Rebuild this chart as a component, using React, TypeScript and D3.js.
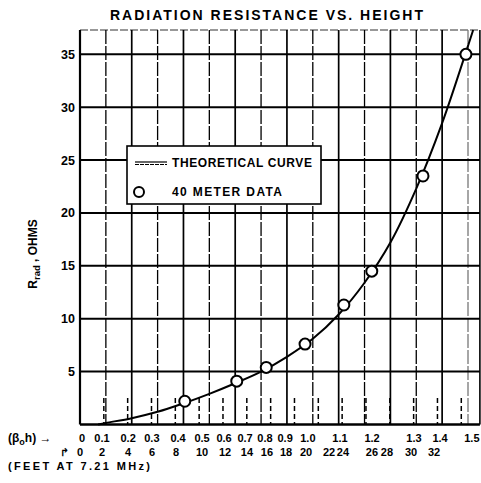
import React from "react";
import * as d3 from "d3";

const TITLE = "RADIATION RESISTANCE VS. HEIGHT";
const X_TICKS = [0, 0.1, 0.2, 0.3, 0.4, 0.5, 0.6, 0.7, 0.8, 0.9, 1.0, 1.1, 1.2, 1.3, 1.4, 1.5];
const X_LABELS = ["0", "0.1", "0.2", "0.3", "0.4", "0.5", "0.6", "0.7", "0.8", "0.9", "1.0", "1.1", "1.2", "1.3", "1.4", "1.5"];
// where the hand-lettered beta labels sit, in beta*h units
const BETA_LABEL_AT = [0.008, 0.085, 0.186, 0.278, 0.379, 0.472, 0.557, 0.638, 0.715, 0.793, 0.881, 1.005, 1.129, 1.291, 1.392, 1.515];
const FEET = [0, 2, 4, 6, 8, 10, 12, 14, 16, 18, 20, 22, 24, 26, 28, 30, 32];
// where the hand-lettered feet labels sit, in feet
const FEET_LABEL_AT = [0, 1.85, 4.03, 6.04, 8.06, 10.24, 12.17, 14.01, 15.69, 17.29, 18.97, 20.9, 22.07, 24.5, 25.76, 27.78, 29.71];
const Y_TICKS = [5, 10, 15, 20, 25, 30, 35];
const WAVELENGTH_FT = 136.4; // 7.21 MHz

const CURVE_BH = [0.07, 0.1, 0.2, 0.3, 0.4, 0.5, 0.6, 0.7, 0.8, 0.9, 1.0, 1.1, 1.2, 1.3, 1.4, 1.5, 1.52];
const CURVE_R = [0.0, 0.15, 0.6, 1.2, 2.0, 2.9, 3.9, 5.0, 6.4, 8.1, 10.4, 13.4, 17.2, 22.3, 28.5, 35.8, 37.3];

const DATA_BH = [0.405, 0.606, 0.72, 0.87, 1.02, 1.128, 1.326, 1.492];
const DATA_R = [2.2, 4.1, 5.4, 7.6, 11.3, 14.5, 23.5, 35.0];

const W = 481;
const H = 483;
const FONT = "'Liberation Sans', Arial, sans-serif";

export default function App() {
  const x = d3.scaleLinear().domain([0, 1.5]).range([80, 468]);
  const y = d3.scaleLinear().domain([0, 37.3]).range([424.5, 30]);
  const xRight = x(1.546);
  const ftToBh = (f: number) => (f * 2 * Math.PI) / WAVELENGTH_FT;

  const curve = CURVE_BH.map((b, i) => [b, CURVE_R[i]] as [number, number]);
  const line = d3
    .line<[number, number]>()
    .x((d) => x(d[0]))
    .y((d) => y(d[1]))
    .curve(d3.curveCatmullRom.alpha(0.5));

  return (
    <svg
      width={W}
      height={H}
      viewBox={`0 0 ${W} ${H}`}
      style={{ position: "absolute", left: 0, top: 0, background: "#fff" }}
    >
      <rect x={0} y={0} width={W} height={H} fill="#fff" />
      <text
        x={110}
        y={20}
        fontFamily={FONT}
        fontWeight="bold"
        fontSize={14}
        textLength={313}
        lengthAdjust="spacing"
      >
        {TITLE}
      </text>

      {/* top border */}
      <line x1={x(0)} x2={xRight} y1={y(37.3)} y2={y(37.3)} stroke="#333" strokeWidth={1.2} strokeDasharray="8 2" />

      {/* vertical grid */}
      {X_TICKS.slice(1).map((t, i) => (
        <line
          key={"vx" + t}
          x1={x(t)}
          x2={x(t)}
          y1={y(37.3)}
          y2={y(0)}
          stroke={t === 1.5 ? "#777" : "#000"}
          strokeWidth={i % 2 === 0 ? 1.3 : 1.7}
          strokeDasharray={i % 2 === 0 ? "14 2" : undefined}
        />
      ))}
      {/* right border */}
      <line x1={xRight} x2={xRight} y1={y(37.3)} y2={y(0)} stroke="#000" strokeWidth={1.6} />

      {/* horizontal grid */}
      {Y_TICKS.map((t) => (
        <line key={"hy" + t} x1={x(0)} x2={xRight} y1={y(t)} y2={y(t)} stroke="#000" strokeWidth={2} />
      ))}

      {/* feet ticks */}
      {FEET.slice(1).map((f) => (
        <line
          key={"ft" + f}
          x1={x(ftToBh(f))}
          x2={x(ftToBh(f))}
          y1={y(2.5)}
          y2={y(0)}
          stroke="#000"
          strokeWidth={1.5}
          strokeDasharray="5 3"
        />
      ))}

      {/* axes */}
      <line x1={x(0)} x2={x(0)} y1={y(37.3)} y2={y(0)} stroke="#000" strokeWidth={2.2} />
      <line x1={x(0)} x2={xRight} y1={y(0)} y2={y(0)} stroke="#000" strokeWidth={2.6} />

      {/* y tick labels */}
      {Y_TICKS.map((t) => (
        <text
          key={"yl" + t}
          x={75}
          y={y(t) + 4.5}
          textAnchor="end"
          fontFamily={FONT}
          fontWeight="bold"
          fontSize={12.5}
        >
          {t}
        </text>
      ))}

      {/* y axis title */}
      <text
        transform={`translate(37, ${254}) rotate(-90)`}
        textAnchor="middle"
        fontFamily={FONT}
        fontWeight="bold"
        fontSize={12}
      >
        R
        <tspan fontSize={9.5} dy={3}>
          rad
        </tspan>
        <tspan dy={-3}> , OHMS</tspan>
      </text>

      {/* curve */}
      <path d={line(curve) || ""} fill="none" stroke="#000" strokeWidth={2} />

      {/* data points */}
      {DATA_BH.map((b, i) => (
        <circle key={"pt" + i} cx={x(b)} cy={y(DATA_R[i])} r={5.5} fill="#fff" stroke="#000" strokeWidth={2} />
      ))}

      {/* legend */}
      <rect x={127} y={146} width={194} height={58} fill="#fff" stroke="#000" strokeWidth={1.6} />
      <line x1={135} x2={167} y1={162} y2={162} stroke="#000" strokeWidth={1.2} />
      <line x1={135} x2={167} y1={164.5} y2={164.5} stroke="#000" strokeWidth={1} strokeDasharray="4 1" />
      <text x={172} y={167} fontFamily={FONT} fontWeight="bold" fontSize={12} textLength={140} lengthAdjust="spacing">
        THEORETICAL CURVE
      </text>
      <circle cx={139} cy={192} r={5} fill="#fff" stroke="#000" strokeWidth={2} />
      <text x={172} y={196} fontFamily={FONT} fontWeight="bold" fontSize={12} textLength={110} lengthAdjust="spacing">
        40 METER DATA
      </text>

      {/* beta h row */}
      <text x={8} y={442} fontFamily={FONT} fontWeight="bold" fontSize={12}>
        (β
        <tspan fontSize={9} dy={3}>
          o
        </tspan>
        <tspan dy={-3}>h) →</tspan>
      </text>
      {X_LABELS.map((l, i) => (
        <text
          key={"xl" + i}
          x={x(BETA_LABEL_AT[i])}
          y={442}
          textAnchor="middle"
          fontFamily={FONT}
          fontWeight="bold"
          fontSize={11}
        >
          {l}
        </text>
      ))}

      {/* feet row */}
      <text x={60} y={456} fontFamily="'DejaVu Sans', sans-serif" fontWeight="bold" fontSize={11}>
        ↱
      </text>
      {FEET.map((f, i) => (
        <text
          key={"fl" + f}
          x={x(ftToBh(FEET_LABEL_AT[i]))}
          y={456}
          textAnchor="middle"
          fontFamily={FONT}
          fontWeight="bold"
          fontSize={11}
        >
          {f}
        </text>
      ))}
      <text x={8} y={470} fontFamily={FONT} fontWeight="bold" fontSize={11} textLength={142} lengthAdjust="spacing">
        (FEET AT 7.21 MHz)
      </text>
    </svg>
  );
}
